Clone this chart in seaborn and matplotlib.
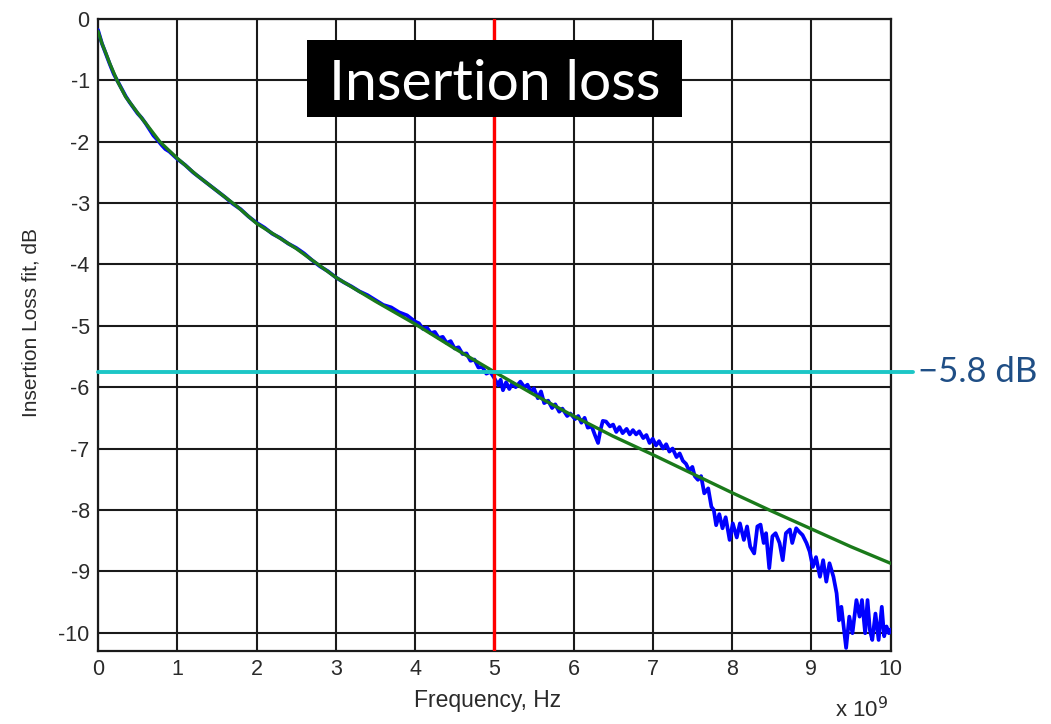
import matplotlib
matplotlib.use("Agg")
import matplotlib.pyplot as plt
import matplotlib.patches as mpatches
import seaborn as sns
import pandas as pd

# ---- data ----
fit_freq_ghz = [0.0, 0.05, 0.1, 0.15, 0.24, 0.35, 0.5, 0.65, 0.78, 1.0, 1.25, 1.5, 1.75,
                2.0, 2.5, 3.0, 3.5, 4.0, 4.5, 5.0, 5.5, 6.0, 6.5, 7.0, 7.5, 8.0, 8.5,
                9.0, 9.5, 10.0]
fit_db = [-0.2, -0.4, -0.56, -0.73, -1.0, -1.27, -1.53, -1.78, -2.0, -2.27, -2.55, -2.8,
          -3.05, -3.33, -3.74, -4.21, -4.6, -4.97, -5.37, -5.75, -6.12, -6.47, -6.8,
          -7.1, -7.41, -7.72, -8.02, -8.31, -8.6, -8.87]

meas_freq_ghz = [0.0, 0.05, 0.1, 0.15, 0.2, 0.25, 0.3, 0.35, 0.4, 0.45, 0.5, 0.55, 0.6,
                 0.65, 0.7, 0.75, 0.8, 0.85, 0.9, 0.95, 1.0, 1.1, 1.2, 1.3, 1.4, 1.5,
                 1.6, 1.7, 1.8, 1.9, 2.0, 2.1, 2.2, 2.3, 2.4, 2.5, 2.6, 2.7, 2.8, 2.9,
                 3.0, 3.1, 3.2, 3.3, 3.4, 3.5, 3.6, 3.7, 3.8, 3.9, 4.0, 4.05, 4.1, 4.15,
                 4.2, 4.25, 4.3, 4.35, 4.4, 4.45, 4.5, 4.55, 4.6, 4.65, 4.7, 4.75, 4.8,
                 4.85, 4.9, 4.95, 5.0, 5.05, 5.08, 5.11, 5.15, 5.19, 5.23, 5.27, 5.33,
                 5.38, 5.42, 5.46, 5.50, 5.55, 5.59, 5.63, 5.68, 5.73, 5.77, 5.82, 5.86,
                 5.92, 5.96, 6.02, 6.06, 6.10, 6.14, 6.18, 6.23, 6.27, 6.31, 6.34, 6.37,
                 6.41, 6.46, 6.50, 6.54, 6.58, 6.62, 6.67, 6.71, 6.75, 6.79, 6.83, 6.88,
                 6.92, 6.96, 7.00, 7.04, 7.08, 7.13, 7.17, 7.21, 7.25, 7.30, 7.34, 7.38,
                 7.42, 7.46, 7.50, 7.53, 7.57, 7.61, 7.65, 7.70, 7.74, 7.77, 7.80, 7.84,
                 7.88, 7.92, 7.97, 8.01, 8.06, 8.10, 8.15, 8.19, 8.23, 8.28, 8.32, 8.36,
                 8.40, 8.43, 8.47, 8.51, 8.55, 8.60, 8.64, 8.68, 8.73, 8.76, 8.81, 8.85,
                 8.89, 8.94, 8.98, 9.02, 9.06, 9.11, 9.15, 9.19, 9.23, 9.28, 9.32, 9.35,
                 9.38, 9.41, 9.44, 9.48, 9.52, 9.57, 9.61, 9.64, 9.68, 9.71, 9.74, 9.77,
                 9.81, 9.85, 9.89, 9.92, 9.95, 9.98, 10.0]
meas_db = [-0.18, -0.40, -0.57, -0.74, -0.90, -1.02, -1.14, -1.26, -1.36, -1.45, -1.54,
           -1.61, -1.70, -1.80, -1.90, -1.97, -2.05, -2.12, -2.16, -2.22, -2.28, -2.38,
           -2.50, -2.60, -2.70, -2.80, -2.90, -3.01, -3.10, -3.22, -3.32, -3.40, -3.50,
           -3.57, -3.66, -3.73, -3.82, -3.93, -4.03, -4.11, -4.21, -4.29, -4.36, -4.44,
           -4.50, -4.58, -4.66, -4.70, -4.78, -4.83, -4.93, -4.96, -5.05, -5.03, -5.12,
           -5.10, -5.20, -5.18, -5.28, -5.25, -5.37, -5.35, -5.46, -5.45, -5.57, -5.55,
           -5.68, -5.67, -5.78, -5.75, -5.85, -5.97, -5.88, -6.05, -5.92, -6.03, -5.93,
           -6.00, -5.91, -6.00, -5.96, -6.08, -6.02, -6.18, -6.07, -6.26, -6.22, -6.34,
           -6.28, -6.40, -6.35, -6.47, -6.43, -6.52, -6.47, -6.58, -6.50, -6.66, -6.64,
           -6.78, -6.91, -6.70, -6.55, -6.56, -6.64, -6.61, -6.73, -6.65, -6.75, -6.68,
           -6.77, -6.70, -6.77, -6.72, -6.83, -6.78, -6.91, -6.84, -6.95, -6.88, -7.00,
           -6.93, -7.05, -7.00, -7.14, -7.08, -7.20, -7.25, -7.36, -7.30, -7.45, -7.51,
           -7.45, -7.73, -7.65, -7.95, -8.00, -8.25, -8.07, -8.30, -8.12, -8.49, -8.22,
           -8.45, -8.22, -8.49, -8.27, -8.60, -8.71, -8.27, -8.24, -8.54, -8.38, -8.95,
           -8.43, -8.38, -8.54, -8.82, -8.38, -8.32, -8.54, -8.30, -8.36, -8.41, -8.54,
           -8.68, -8.93, -8.77, -9.09, -8.82, -9.17, -8.87, -9.09, -9.36, -9.80, -9.58,
           -9.91, -10.25, -9.74, -10.01, -9.47, -9.74, -9.47, -10.01, -9.47, -9.96,
           -10.12, -9.69, -10.12, -9.58, -10.06, -9.90, -10.01, -9.95]

marker_freq_ghz = 5.0
marker_level_db = -5.75
marker_label = "\u22125.8 dB"
title_text = "Insertion loss"
x_ticks = list(range(0, 11))
y_ticks = list(range(0, -11, -1))

# ---- style ----
sns.set_theme(style="white")
plt.rcParams["font.family"] = ["Liberation Sans", "DejaVu Sans"]
plt.rcParams["axes.unicode_minus"] = False

fig = plt.figure(figsize=(10.51, 7.24), dpi=100)
W, H = 1051, 724
ax = fig.add_axes([98 / W, 1 - 651 / H, (890.5 - 98) / W, (651 - 19) / H])

meas_df = pd.DataFrame({"f": meas_freq_ghz, "db": meas_db})
fit_df = pd.DataFrame({"f": fit_freq_ghz, "db": fit_db})

sns.lineplot(data=meas_df, x="f", y="db", ax=ax, color="#0000FF", lw=2.7, sort=False,
             estimator=None, zorder=3)
sns.lineplot(data=fit_df, x="f", y="db", ax=ax, color="#1A7A1A", lw=2.4, sort=False,
             estimator=None, zorder=4)

ax.axvline(marker_freq_ghz, color="#FF0000", lw=2.4, zorder=5)
ax.plot([0, 10.28], [marker_level_db, marker_level_db], color="#1CC6C6", lw=2.8,
        zorder=6, clip_on=False)

ax.set_xlim(0, 10)
ax.set_ylim(-10.3, 0)
ax.set_xticks(x_ticks)
ax.set_xticklabels([str(t) for t in x_ticks])
ax.set_yticks(y_ticks)
ax.set_yticklabels([str(t) for t in y_ticks])
ax.grid(True, color="#1a1a1a", lw=1.5)
ax.set_axisbelow(True)
for s in ax.spines.values():
    s.set_color("#1a1a1a")
    s.set_linewidth(1.6)
ax.tick_params(axis="both", which="both", direction="in", length=4, width=1.2,
               top=True, right=True, labelsize=15.5, labelcolor="#2a2a2a",
               color="#1a1a1a", pad=6)
ax.set_xlabel("Frequency, Hz", fontsize=16.5, color="#2a2a2a")
ax.set_ylabel("Insertion Loss fit, dB", fontsize=15, color="#2a2a2a")
ax.xaxis.set_label_coords(0.492, -0.060)
ax.yaxis.set_label_coords(-0.072, 0.519)

# exponent label
fig.text(835 / W, 1 - 717 / H, r"x 10$^9$", fontsize=16, color="#2a2a2a",
         ha="left", va="baseline")

# title box
fig.patches.append(mpatches.Rectangle((307 / W, 1 - 117 / H), (682 - 307) / W, (117 - 40) / H,
                                      transform=fig.transFigure, facecolor="black",
                                      edgecolor="none", zorder=10))
fig.text(494.5 / W, 1 - 100 / H, title_text, fontsize=41, color="white",
         family=["Lato", "DejaVu Sans"], ha="center", va="baseline", zorder=11)

# level label
fig.text(918 / W, 1 - 372 / H, marker_label, fontsize=25, color="#1F4E85",
         family=["Lato", "DejaVu Sans"], ha="left", va="center")

fig.savefig("out.png", dpi=100)
